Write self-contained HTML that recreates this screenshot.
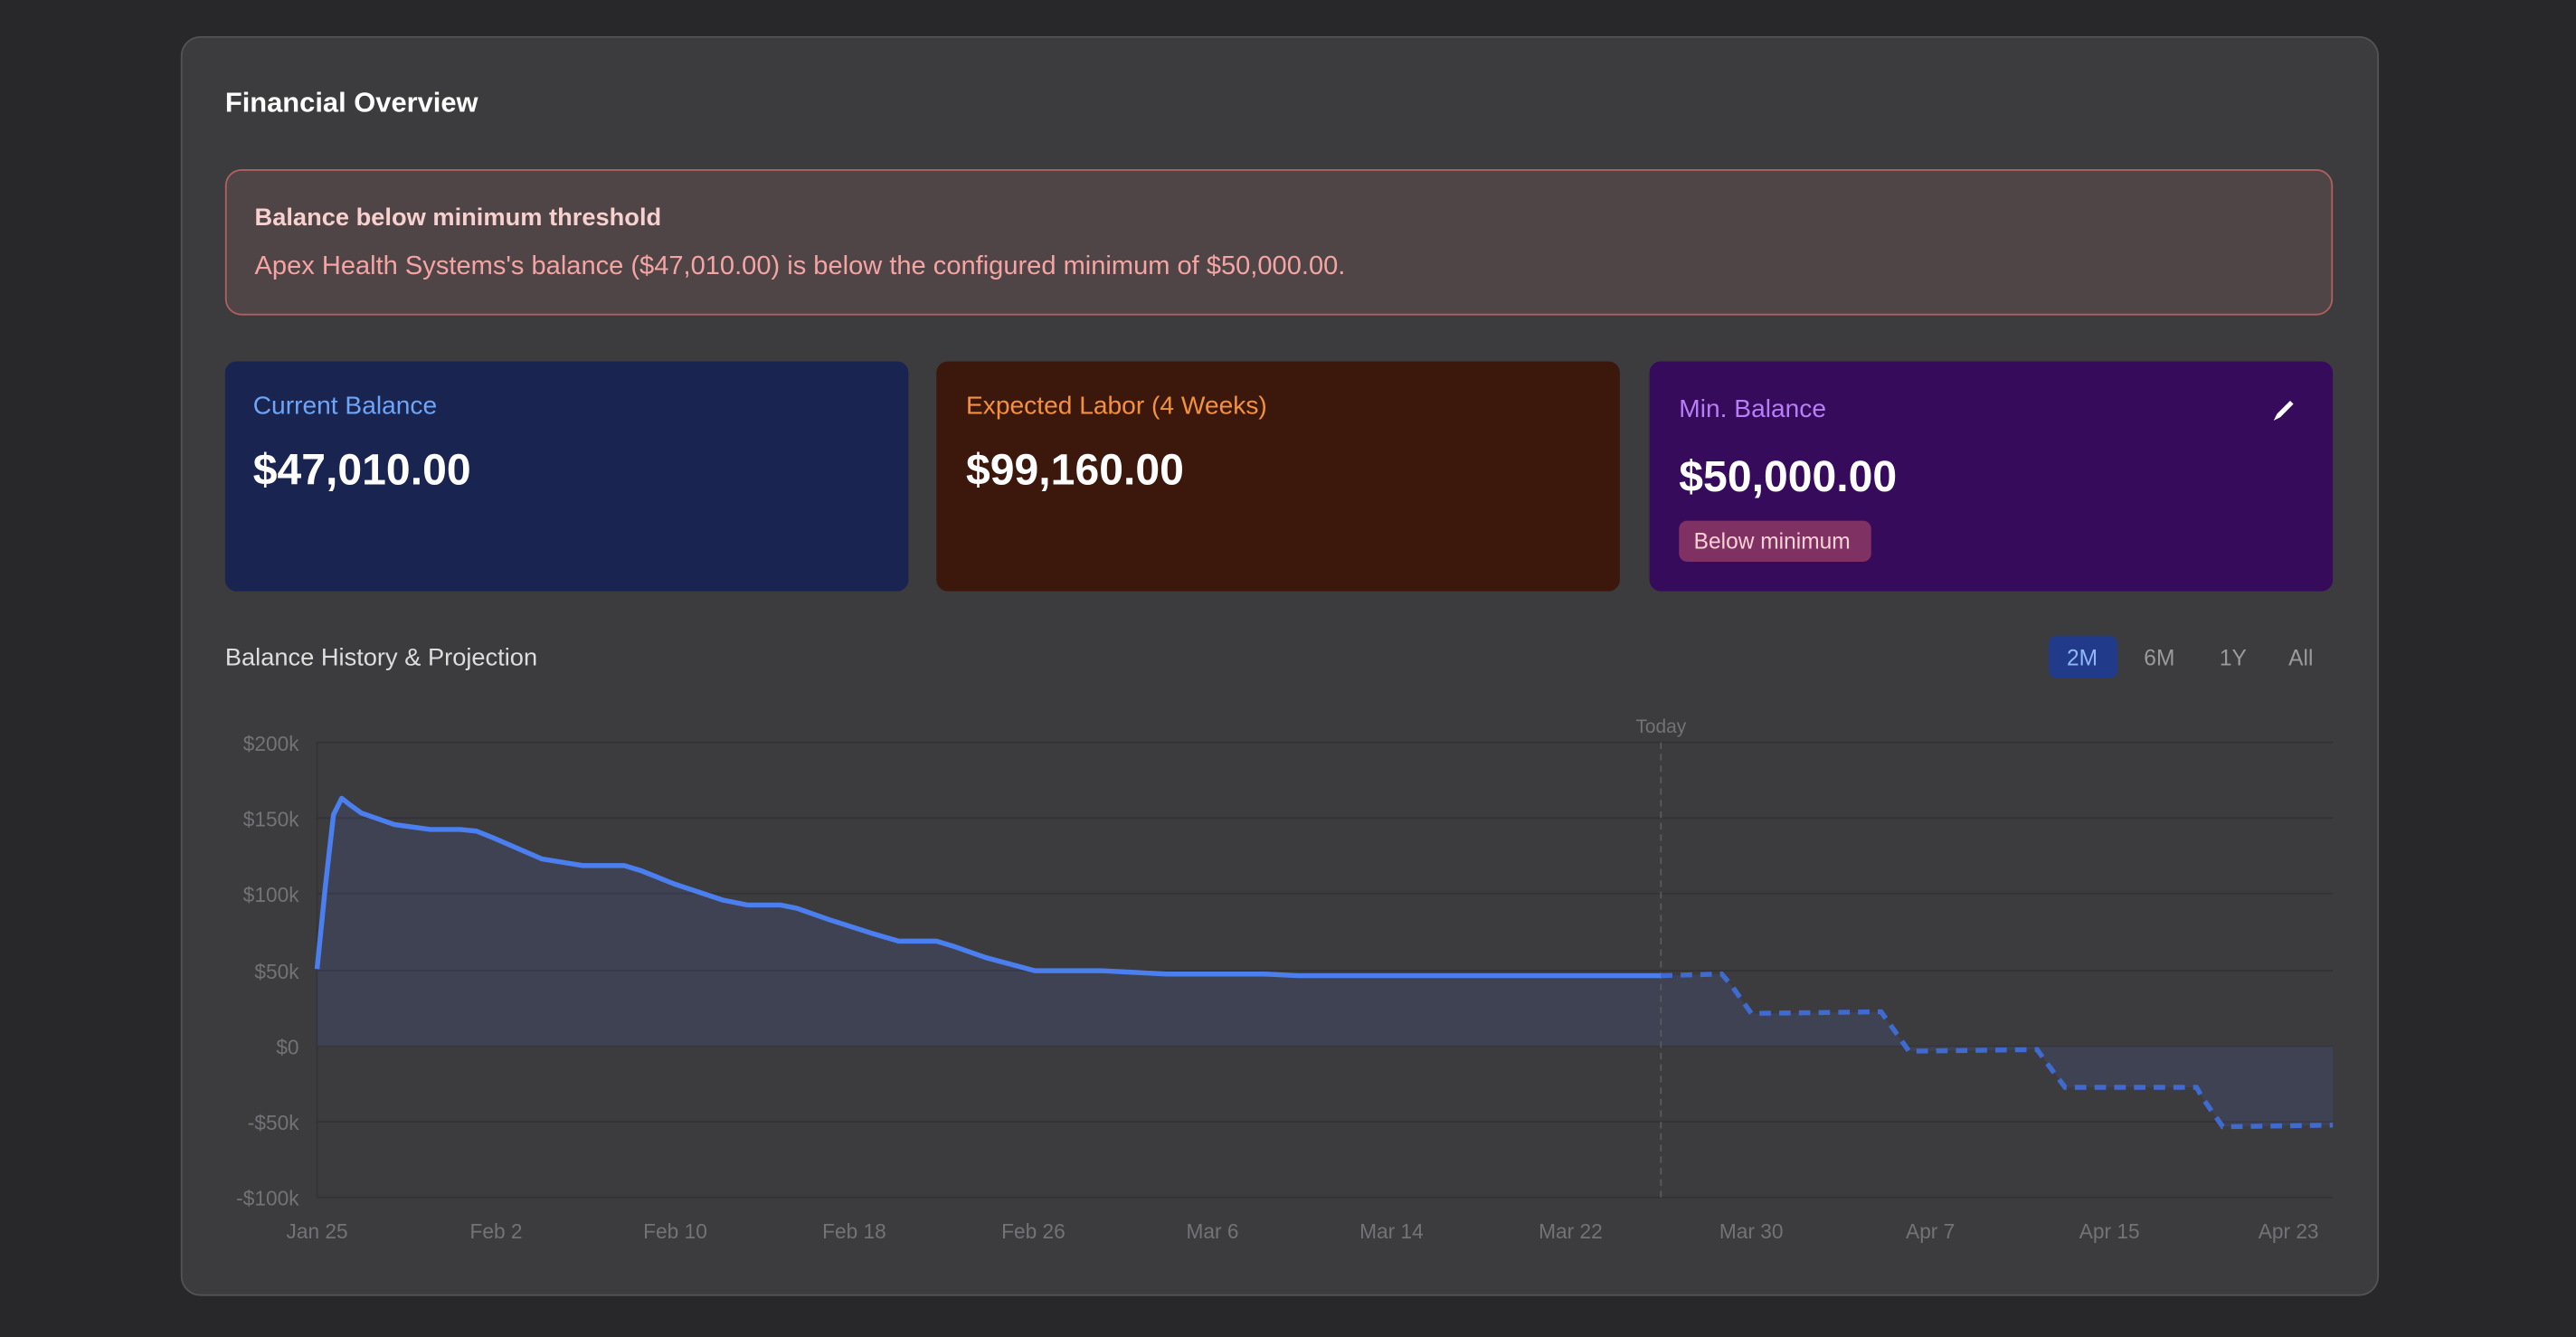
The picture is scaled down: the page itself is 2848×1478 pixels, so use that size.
<!DOCTYPE html>
<html><head><meta charset="utf-8"><style>
html,body{margin:0;padding:0;background:#28282a;width:2848px;height:1478px;overflow:hidden;font-family:"Liberation Sans",sans-serif}
#w{position:absolute;left:0;top:0;width:1568px;height:814px;transform:scale(1.81633,1.81572);transform-origin:0 0}
.a{position:absolute;white-space:nowrap}
.card{position:absolute;border-radius:7px}
</style></head><body><div id="w">
<div class="card" style="left:110px;top:22px;width:1336px;height:765px;background:#3c3c3e;border:1px solid #535356;border-radius:12px"></div>
<div class="a" style="left:137px;top:53px;font-size:17px;font-weight:bold;color:#fff">Financial Overview</div>
<div class="card" style="left:137px;top:103px;width:1281px;height:87px;background:#4f4446;border:1px solid #b0605f;border-radius:10px"></div>
<div class="a" style="left:155px;top:124px;font-size:15px;font-weight:bold;color:#f7d0cf">Balance below minimum threshold</div>
<div class="a" style="left:155px;top:154px;font-size:16px;color:#f4a5a3">Apex Health Systems's balance ($47,010.00) is below the configured minimum of $50,000.00.</div>

<div class="card" style="left:137px;top:220px;width:416px;height:140px;background:#1a2451"></div>
<div class="a" style="left:154px;top:239px;font-size:15.5px;color:#6fa5f7">Current Balance</div>
<div class="a" style="left:154px;top:271px;font-size:26.5px;font-weight:bold;color:#fff">$47,010.00</div>
<div class="card" style="left:570px;top:220px;width:416px;height:140px;background:#3c180c"></div>
<div class="a" style="left:588px;top:239px;font-size:15.5px;color:#f4913e">Expected Labor (4 Weeks)</div>
<div class="a" style="left:588px;top:271px;font-size:26.5px;font-weight:bold;color:#fff">$99,160.00</div>
<div class="card" style="left:1004px;top:220px;width:416px;height:140px;background:#360b5c"></div>
<div class="a" style="left:1022px;top:241px;font-size:15.5px;color:#b77ef5">Min. Balance</div>
<svg class="a" style="left:1380px;top:241px" width="18" height="18"><path d="M4 15 L6 11 L14 3 L16 5 L8 13 Z" fill="#fff"/></svg>
<div class="a" style="left:1022px;top:275px;font-size:26.5px;font-weight:bold;color:#fff">$50,000.00</div>
<div class="card" style="left:1022px;top:317px;width:117px;height:25px;background:#803163;border-radius:5px"></div>
<div class="a" style="left:1031px;top:322px;font-size:13.5px;color:#fad2d6">Below minimum</div>

<div class="a" style="left:137px;top:392px;font-size:15px;color:#ddd">Balance History &amp; Projection</div>
<div class="card" style="left:1247px;top:387px;width:42px;height:26px;background:#223a8a;border-radius:5px"></div>
<div class="a" style="left:1258px;top:393px;font-size:13.5px;color:#8fb8f8">2M</div>
<div class="a" style="left:1305px;top:393px;font-size:13.5px;color:#9a9a9e">6M</div>
<div class="a" style="left:1351px;top:393px;font-size:13.5px;color:#9a9a9e">1Y</div>
<div class="a" style="left:1393px;top:393px;font-size:13.5px;color:#9a9a9e">All</div>

<svg class="a" style="left:0;top:0" width="1568" height="814" font-family="Liberation Sans, sans-serif" font-size="12.5" fill="#737377">
<g stroke="#333336" stroke-width="1">
<line x1="193" y1="452" x2="1420" y2="452"/><line x1="193" y1="498" x2="1420" y2="498"/>
<line x1="193" y1="544" x2="1420" y2="544"/><line x1="193" y1="591" x2="1420" y2="591"/>
<line x1="193" y1="637" x2="1420" y2="637"/><line x1="193" y1="683" x2="1420" y2="683"/>
<line x1="193" y1="729" x2="1420" y2="729"/><line x1="193" y1="452" x2="193" y2="729"/>
</g>
<g text-anchor="end">
<text x="182" y="457">$200k</text><text x="182" y="503">$150k</text><text x="182" y="549">$100k</text>
<text x="182" y="596">$50k</text><text x="182" y="642">$0</text><text x="182" y="688">-$50k</text><text x="182" y="734">-$100k</text>
</g>
<g text-anchor="middle">
<text x="193" y="754">Jan 25</text><text x="302" y="754">Feb 2</text><text x="411" y="754">Feb 10</text>
<text x="520" y="754">Feb 18</text><text x="629" y="754">Feb 26</text><text x="738" y="754">Mar 6</text>
<text x="847" y="754">Mar 14</text><text x="956" y="754">Mar 22</text><text x="1066" y="754">Mar 30</text>
<text x="1175" y="754">Apr 7</text><text x="1284" y="754">Apr 15</text><text x="1393" y="754">Apr 23</text>
<text x="1011" y="446" font-size="11.5">Today</text>
</g>
<path d="M193,637 L193,590 L198,540 L203,496 L208,486 L213,490 L220,495 L240,502 L262,505 L280,505 L290,506 L300,510 L330,523 L355,527 L380,527 L390,530 L410,538 L440,548 L455,551 L475,551 L485,553 L505,560 L530,568 L547,573 L570,573 L580,576 L600,583 L630,591 L670,591 L690,592 L710,593 L770,593 L790,594 L1011,594 L1048,593 L1054,600 L1066,617 L1145,616 L1150,623 L1162,640 L1240,639 L1245,646 L1257,662 L1337,662 L1341,669 L1353,686 L1420,685 L1420,637 Z" fill="rgba(85,105,220,0.13)" stroke="none"/>
<line x1="1011" y1="452" x2="1011" y2="729" stroke="#5a5a5e" stroke-dasharray="4,3"/>
<path d="M193,590 L198,540 L203,496 L208,486 L213,490 L220,495 L240,502 L262,505 L280,505 L290,506 L300,510 L330,523 L355,527 L380,527 L390,530 L410,538 L440,548 L455,551 L475,551 L485,553 L505,560 L530,568 L547,573 L570,573 L580,576 L600,583 L630,591 L670,591 L690,592 L710,593 L770,593 L790,594 L1011,594" fill="none" stroke="#4b7ff0" stroke-width="3" stroke-linejoin="round"/>
<path d="M1011,594 L1048,593 L1054,600 L1066,617 L1145,616 L1150,623 L1162,640 L1240,639 L1245,646 L1257,662 L1337,662 L1341,669 L1353,686 L1420,685" fill="none" stroke="#3f6ad0" stroke-width="3" stroke-dasharray="7,5"/>
</svg>
</div></body></html>
